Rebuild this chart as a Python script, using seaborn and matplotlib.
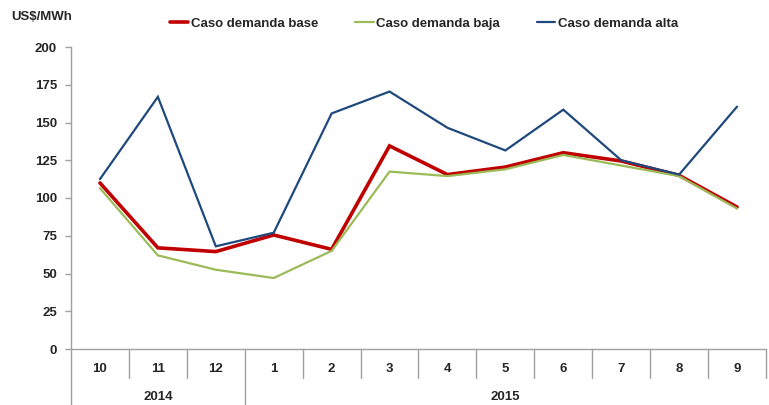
import matplotlib
matplotlib.use("Agg")
import matplotlib.pyplot as plt
import matplotlib.transforms as mtransforms
from matplotlib import font_manager
import seaborn as sns
import pandas as pd

# ========================
# Data
# ========================
months = ["10", "11", "12", "1", "2", "3", "4", "5", "6", "7", "8", "9"]
years = ["2014", "2015"]
year_span = [3, 9]  # number of months per year group

base = [110, 67, 64.5, 75.5, 66, 134.5, 115.5, 120.5, 130, 124.5, 115, 94]
baja = [106.5, 62, 52.5, 47, 65, 117.5, 114.5, 119, 128.5, 121.5, 114.5, 93]
alta = [112.5, 167, 68, 77, 156, 170.5, 146.5, 131.5, 158.5, 125, 115.5, 160.5]

series_names = ["Caso demanda base", "Caso demanda baja", "Caso demanda alta"]
colors = ["#C00000", "#9BBB59", "#1F497D"]
widths = [2.6, 1.6, 1.6]

rows = []
for name, vals in zip(series_names, [base, baja, alta]):
    for i, v in enumerate(vals):
        rows.append({"pos": i, "valor": v, "serie": name})
df = pd.DataFrame(rows)

sns.set_theme(style="white")
available = {f.name for f in font_manager.fontManager.ttflist}
family = "Liberation Sans Narrow" if "Liberation Sans Narrow" in available else "Liberation Sans"
plt.rcParams["font.family"] = [family, "DejaVu Sans"]
plt.rcParams["font.weight"] = "bold"
fs = 9.5

fig = plt.figure(figsize=(7.69, 4.05), dpi=100)
ax = fig.add_axes([71 / 769, 1 - 349 / 405, (766 - 71) / 769, (349 - 47) / 405])

sns.lineplot(data=df, x="pos", y="valor", hue="serie", hue_order=series_names,
             palette=colors, ax=ax, legend=False)
for line, lw in zip(ax.get_lines(), widths):
    line.set_linewidth(lw)
    line.set_solid_joinstyle("miter")

ax.set_xlim(-0.5, len(months) - 0.5)
ax.set_ylim(0, 200)
ax.set_yticks(range(0, 201, 25))
ax.set_xticks(range(len(months)))
ax.set_xticklabels(months, fontsize=fs, fontweight="bold")
ax.tick_params(axis="x", length=0, pad=10)
ax.tick_params(axis="y", length=4, width=1, color="#A0A0A0", direction="out",
               labelsize=fs, pad=6, left=True)
for lbl in ax.get_yticklabels():
    lbl.set_fontweight("bold")
ax.set_xlabel("")
ax.set_ylabel("")

for s in ["top", "right"]:
    ax.spines[s].set_visible(False)
for s in ["left", "bottom"]:
    ax.spines[s].set_color("#A0A0A0")
    ax.spines[s].set_linewidth(1)

# category separators below the axis
trans = mtransforms.blended_transform_factory(ax.transData, ax.transAxes)
month_row = 29 / 302
year_row = 56 / 302
starts = []
acc = 0
for span in year_span:
    starts.append(acc)
    acc += span
for i in range(len(months) + 1):
    depth = year_row if i in starts else month_row
    ax.plot([i - 0.5, i - 0.5], [0, -depth], transform=trans, color="#A0A0A0",
            lw=1, clip_on=False)

acc = 0
for yr, span in zip(years, year_span):
    center = acc + span / 2 - 0.5
    ax.text(center, -48 / 302, yr, transform=trans,
            ha="center", va="center", fontsize=fs, fontweight="bold")
    acc += span

# legend and unit label
handles = [plt.Line2D([], [], color=c, lw=lw) for c, lw in zip(colors, widths)]
fig.legend(handles, series_names, loc="center", bbox_to_anchor=(424 / 769, 1 - 24 / 405),
           ncol=3, frameon=False, handlelength=1.4, handletextpad=0.2,
           columnspacing=2.8, prop={"size": fs, "weight": "bold"})
fig.text(11 / 769, 1 - 17 / 405, "US$/MWh", fontsize=fs, fontweight="bold",
         ha="left", va="center")

plt.savefig("out.png", dpi=100)
plt.close()
